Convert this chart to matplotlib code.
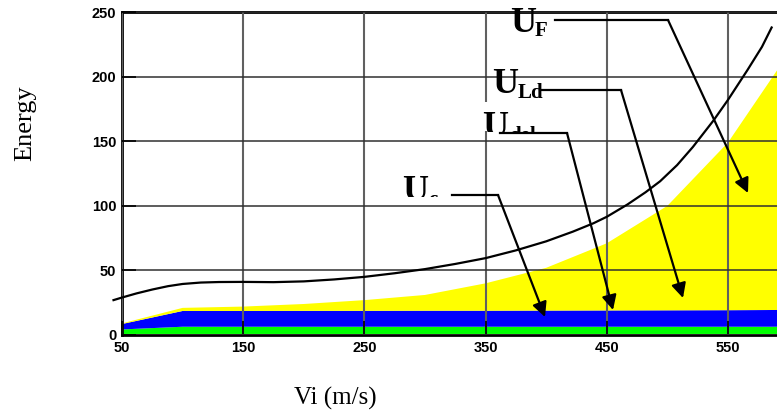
import matplotlib
matplotlib.use("Agg")
import matplotlib.pyplot as plt
from matplotlib.patches import Rectangle
from matplotlib.transforms import Bbox, TransformedBbox

# impact velocity (m/s)
vi = [50, 100, 150, 200, 250, 300, 350, 400, 450, 500, 550, 600]

# stacked energy components (layer thickness, bottom to top)
e_red = [0.8, 0.8, 0.8, 0.8, 0.8, 0.8, 0.8, 0.8, 0.8, 0.8, 0.8, 0.8]
e_green = [3.5, 5.6, 5.6, 5.6, 5.6, 5.6, 5.6, 5.6, 5.6, 5.6, 5.6, 5.6]
e_blue = [4.2, 12.2, 12.2, 12.3, 12.3, 12.4, 12.4, 12.5, 12.6, 12.7, 12.8, 13.0]
e_yellow = [0.5, 2.4, 3.4, 5.3, 8.3, 12.2, 21.2, 33.1, 52.0, 80.9, 129.8, 198.6]

# total energy curve
curve_x = [43, 50, 62, 75, 88, 100, 115, 130, 150, 175, 200, 225, 250, 275, 300,
           325, 350, 375, 400, 422, 439, 450, 467, 482, 494, 508, 521, 538, 550,
           566, 578, 586]
curve_y = [27, 29, 32.2, 35.2, 37.8, 39.5, 40.6, 41, 41.1, 40.9, 41.5, 43, 45,
           47.8, 51, 55, 59.5, 65.5, 72.5, 80, 86.5, 91.5, 101, 110.5, 119,
           131.5, 145.5, 166, 182, 205, 223, 238]

xticks = [50, 150, 250, 350, 450, 550]
yticks = [0, 50, 100, 150, 200, 250]

W, H = 777, 418
fig = plt.figure(figsize=(W / 100, H / 100), dpi=100)
ax = fig.add_axes([122 / W, 1 - 335 / H, 1 - 122 / W, (335 - 12) / H])


def fx(px):
    return px / W


def fy(py):
    return 1 - py / H


def dx(px):
    return 50 + (px - 122) / 1.212


def dy(py):
    return (335 - py) / 1.292


ax.stackplot(vi, e_red, e_green, e_blue, e_yellow,
             colors=["#d00000", "#00ff00", "#0000ff", "#ffff00"], lw=0, zorder=1)
ax.plot(curve_x, curve_y, color="black", lw=1.6, clip_on=False, zorder=3)

ax.set_xlim(50, 50 + (W - 122) / 1.212)
ax.set_ylim(0, 250)
ax.set_xticks(xticks)
ax.set_yticks(yticks)
ax.set_axisbelow(False)
ax.grid(True, axis="x", color="#606060", lw=1.5)
ax.grid(True, axis="y", color="#303030", lw=1.1)
ax.tick_params(direction="in", length=10, width=1.2, pad=4)
for lab in ax.get_xticklabels() + ax.get_yticklabels():
    lab.set_fontfamily("Liberation Sans")
    lab.set_fontweight("bold")
    lab.set_fontsize(10.5)
for side in ["left", "bottom", "top"]:
    ax.spines[side].set_linewidth(2)
    ax.spines[side].set_color("black")
ax.spines["right"].set_visible(False)

fig.text(fx(25), fy(123), "Energy", rotation=90, ha="center", va="center",
         family="Liberation Serif", fontsize=19)
fig.text(fx(335), fy(398), "Vi (m/s)", ha="center", va="center",
         family="Liberation Serif", fontsize=18)

# white box behind the U_del label
fig.add_artist(Rectangle((fx(480), fy(131)), (566 - 480) / W, (131 - 102) / H,
                         transform=fig.transFigure, facecolor="white",
                         edgecolor="none", zorder=4))

# labels: (main left, main baseline, sub text, sub left, sub baseline, clip y)
labels = [
    (510, 32, "F", 535, 36, None),
    (492, 93, "Ld", 518, 98, None),
    (482, 136, "del", 509, 141, 132),
    (402, 200, "c", 428, 205, 197),
]
for ux, uy, sub, sx, sy, clip in labels:
    t1 = fig.text(fx(ux), fy(uy), "U", ha="left", va="baseline",
                  family="Liberation Serif", fontweight="bold", fontsize=26, zorder=5)
    t2 = fig.text(fx(sx), fy(sy), sub, ha="left", va="baseline",
                  family="Liberation Serif", fontweight="bold", fontsize=15, zorder=5)
    if clip is not None:
        box = TransformedBbox(Bbox.from_extents(0, fy(clip), 1, 1), fig.transFigure)
        for t in (t1, t2):
            t.set_clip_on(True)
            t.set_clip_box(box)

# leader lines: horizontal start, corner, arrow tip (pixel positions)
leaders = [
    ((555, 20), (668, 20), (748, 193)),
    ((540, 90), (621, 90), (683, 298)),
    ((500, 133), (567, 133), (613, 310)),
    ((452, 195), (498, 195), (545, 317)),
]
for (x0, y0), (x1, y1), (x2, y2) in leaders:
    ax.plot([dx(x0), dx(x1)], [dy(y0), dy(y1)], color="black", lw=1.6,
            clip_on=False, zorder=6)
    ax.annotate("", xy=(dx(x2), dy(y2)), xytext=(dx(x1), dy(y1)),
                arrowprops=dict(arrowstyle="-|>", color="black", lw=1.6,
                                mutation_scale=22, shrinkA=0, shrinkB=0),
                zorder=6, annotation_clip=False)

fig.savefig("out.png", dpi=100)
